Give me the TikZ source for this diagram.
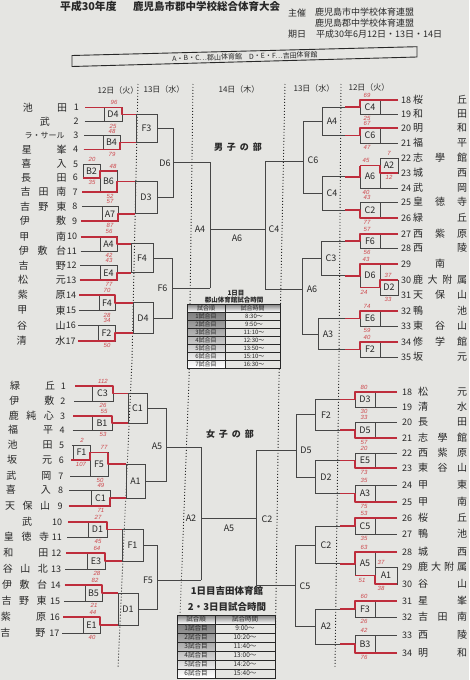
\documentclass[tikz,border=0pt]{standalone}
\usepackage{fontspec}
\setmainfont{Noto Sans CJK JP}
\newfontfamily\hwf{Liberation Sans}
\definecolor{paper}{RGB}{229,229,226}
\definecolor{ink}{RGB}{40,40,40}
\definecolor{lnc}{RGB}{70,70,70}
\definecolor{redln}{RGB}{190,45,60}
\definecolor{redtx}{RGB}{205,70,75}
\definecolor{shade}{RGB}{140,138,145}
\tikzset{
 ln/.style={draw=lnc,line width=0.85pt},
 rl/.style={draw=redln,line width=1.7pt,line join=round},
 nm/.style={inner sep=0pt,text=ink,font=\fontsize{10}{10}\selectfont},
 num/.style={inner sep=0pt,text=ink,font=\fontsize{9}{9}\selectfont},
 lbl/.style={inner sep=0pt,text=ink,font=\fontsize{9}{9}\selectfont},
 scr/.style={inner sep=0pt,text=redtx,font=\hwf\itshape\fontsize{6}{6}\selectfont},
 hdr/.style={inner sep=0pt,text=ink,font=\fontsize{8}{8}\selectfont},
 dotl/.style={draw=ink,line width=0.9pt,dash pattern=on 0.9pt off 2.1pt},
 tbl/.style={draw=ink,line width=0.7pt},
 ttx/.style={inner sep=0pt,text=ink},
}
% left entry: #1 number, #2 y, #3 n chars, #4 chars, #5 line end x
\newcommand\Lent[5]{%
  \pgfmathsetmacro\myA{\LA-\LAd*(#1-1)}%
  \pgfmathsetmacro\myB{\LB-\LBd*(#1-1)}%
  \pgfmathsetmacro\myN{\LN-\LNd*(#1-1)}%
  \pgfmathsetmacro\myS{\LS-\LSd*(#1-1)}%
  \foreach \ch [count=\k] in {#4} {%
    \pgfmathsetmacro\myX{#3==1 ? (\myA+\myB)/2 : \myA+(\k-1)*(\myB-\myA)/max(#3-1,1)}%
    \node[nm] at (\myX,#2) {\ch};}%
  \node[num,anchor=east] at (\myN,#2) {#1};%
  \draw[ln] (\myS,#2) -- (#5,#2);%
}
% right entry: #1 number, #2 y, #3 n chars, #4 chars, #5 line start x
\newcommand\Rent[5]{%
  \foreach \ch [count=\k] in {#4} {%
    \pgfmathsetmacro\myX{#3==1 ? (\RA+\RB)/2 : \RA+(\k-1)*(\RB-\RA)/max(#3-1,1)}%
    \node[nm] at (\myX,#2) {\ch};}%
  \node[num,anchor=west] at (\RN,#2) {#1};%
  \draw[ln] (#5,#2) -- (\RE,#2);%
}
\newcommand\mbx[5]{\draw[ln] (#1,#3) rectangle (#2,#4);
  \node[lbl] at ({(#1+#2)/2},{(#3+#4)/2}) {#5};}
\newcommand\rwin[5]{\draw[rl] (#1,#2) -- (#3,#2) -- (#3,#4) -- (#5,#4);}
\newcommand\scoreat[3]{\node[scr] at (#1,#2) {#3};}
\begin{document}
\begin{tikzpicture}[x=1pt,y=-1pt]
\useasboundingbox (0,0) rectangle (469,680);
\fill[paper] (0,0) rectangle (469,680);

% ---------- header ----------
\node[inner sep=0pt,text=ink,font=\bfseries\fontsize{10.8}{10.8}\selectfont,anchor=west] at (60,6.5) {平成30年度};
\node[inner sep=0pt,text=ink,font=\bfseries\fontsize{10.5}{10.5}\selectfont,anchor=west] at (133,6.3) {鹿児島市郡中学校総合体育大会};
\begin{scope}[every node/.style={inner sep=0pt,text=ink,font=\fontsize{9}{9}\selectfont}]
\node at (297,13.5) {主催};
\node[anchor=west] at (315,12.5) {鹿児島市中学校体育連盟};
\node[anchor=west] at (315,23) {鹿児島郡中学校体育連盟};
\node at (297,34.5) {期日};
\node[anchor=west] at (316,34) {平成30年6月12日・13日・14日};
\end{scope}
\draw[line width=0.9pt,draw=ink] (72,55.5) -- (417,46.7) -- (417,57) -- (72,66.5) -- cycle;
\node[inner sep=0pt,text=ink,font=\fontsize{7}{7}\selectfont,rotate=1.5] at (245,56.6) {A・B・C…郡山体育館　D・E・F…吉田体育館};

% column headers
\node[hdr] at (118,90) {12日（火）};
\node[hdr] at (164,89.5) {13日（水）};
\node[hdr] at (239,89) {14日（木）};
\node[hdr] at (314,88) {13日（水）};
\node[hdr] at (369,87.5) {12日（火）};

% dotted day separators
\draw[dotl] (138,84) -- (132,360) -- (118,668);
\draw[dotl] (193,84) -- (189,380) -- (178,668);
\draw[dotl] (285,84) -- (279,380) -- (275,668);
\draw[dotl] (341,84) -- (339,360) -- (335,668);

% ================= BOYS =================
\node[inner sep=0pt,text=ink,font=\bfseries\fontsize{9}{9}\selectfont] at (238,147) {男\hspace{4pt}子\hspace{4pt}の\hspace{4pt}部};
\def\LA{28}\def\LAd{0.4}\def\LB{62}\def\LBd{0.1}\def\LN{79}\def\LNd{0.2}\def\LS{85}\def\LSd{0.45}
\Lent{1}{107.5}{2}{池,田}{122}
\Lent{2}{121.7}{1}{武}{122}
\Lent{3}{135.7}{1}{{\fontsize{8}{8}\selectfont ラ・サール}}{120}
\Lent{4}{149.5}{2}{星,峯}{120}
\Lent{5}{164}{2}{喜,入}{100}
\Lent{6}{177.7}{2}{長,田}{100}
\Lent{7}{192}{3}{吉,田,南}{117}
\Lent{8}{206.7}{3}{吉,野,東}{118}
\Lent{9}{221}{2}{伊,敷}{118}
\Lent{10}{236.7}{2}{甲,南}{117}
\Lent{11}{251}{3}{伊,敷,台}{117}
\Lent{12}{265.7}{2}{吉,野}{117}
\Lent{13}{280}{2}{松,元}{117}
\Lent{14}{295}{2}{紫,原}{115}
\Lent{15}{310.5}{2}{甲,東}{115}
\Lent{16}{325.5}{2}{谷,山}{115}
\Lent{17}{341}{2}{清,水}{115}
\mbx{104}{122}{107.5}{121.7}{D4}
\mbx{103}{120}{135.7}{149.5}{B4}
\mbx{83}{100}{164}{177.7}{B2}
\mbx{100}{117}{170.85}{192}{B6}
\mbx{102}{118}{206.7}{221}{A7}
\mbx{100}{117}{236.7}{251}{A4}
\mbx{100}{117}{265.7}{280}{E4}
\mbx{99}{115}{295}{310.5}{F4}
\mbx{98}{115}{325.5}{341}{F2}
\mbx{136}{157}{114.6}{142.6}{F3}
\mbx{135}{157}{181.4}{213.85}{D3}
\mbx{131}{153}{243.85}{272.85}{F4}
\mbx{133}{153}{302.75}{333.25}{D4}
\draw[ln] (122,114.6)--(136,114.6) (120,142.6)--(136,142.6) (117,181.4)--(135,181.4) (118,213.85)--(135,213.85)
 (117,243.85)--(131,243.85) (117,272.85)--(131,272.85) (115,302.75)--(133,302.75) (115,333.25)--(133,333.25);
\draw[ln] (157,128.6)--(173,128.6)--(173,197.6)--(157,197.6);
\node[lbl] at (165,163) {D6};
\draw[ln] (173,162)--(210,162);
\draw[ln] (153,258.35)--(172,258.35)--(172,318)--(153,318);
\node[lbl] at (162.5,288) {F6};
\draw[ln] (172,288)--(210,288);
\draw[ln] (210,162)--(210,288);
\node[lbl] at (200,229) {A4};
\draw[ln] (210,229)--(265,229);
\node[lbl] at (237,238) {A6};
\draw[ln] (265,161)--(265,289);
\node[lbl] at (274,229) {C4};

\def\RA{418}\def\RB{462}\def\RN{401}\def\RE{398}
\Rent{18}{100}{2}{桜,丘}{360}
\Rent{19}{114}{2}{和,田}{360}
\Rent{20}{128}{2}{明,和}{360}
\Rent{21}{143}{2}{福,平}{360}
\Rent{22}{158}{3}{志,學,館}{380}
\Rent{23}{173}{2}{城,西}{380}
\Rent{24}{188}{2}{武,岡}{360}
\Rent{25}{202}{3}{皇,徳,寺}{360}
\Rent{26}{218}{2}{緑,丘}{360}
\Rent{27}{234}{3}{西,紫,原}{360}
\Rent{28}{248}{2}{西,陵}{360}
\Rent{29}{264}{1}{南}{360}
\Rent{30}{280}{4}{鹿,大,附,属}{380}
\Rent{31}{295}{3}{天,保,山}{380}
\Rent{32}{311}{2}{鴨,池}{360}
\Rent{33}{326}{3}{東,谷,山}{360}
\Rent{34}{342}{3}{修,学,館}{360}
\Rent{35}{357}{2}{坂,元}{360}
\mbx{360}{380}{100}{114}{C4}
\mbx{360}{380}{128}{143}{C6}
\mbx{380}{398}{158}{173}{A2}
\mbx{360}{380}{165.5}{188}{A6}
\mbx{360}{380}{202}{218}{C2}
\mbx{360}{380}{234}{248}{F6}
\mbx{380}{398}{280}{295}{D2}
\mbx{360}{380}{264}{287.5}{D6}
\mbx{360}{380}{311}{326}{E6}
\mbx{360}{380}{342}{357}{F2}
\draw[ln] (360,107)--(322,107)--(322,135.5)--(360,135.5); \node[lbl] at (332,121.3) {A4};
\draw[ln] (360,176.75)--(322,176.75)--(322,210)--(360,210); \node[lbl] at (332,193.4) {C4};
\draw[ln] (360,241)--(321,241)--(321,275.75)--(360,275.75); \node[lbl] at (331,258.4) {C3};
\draw[ln] (360,318.5)--(318,318.5)--(318,349.5)--(360,349.5); \node[lbl] at (328,334) {A3};
\draw[ln] (322,121.3)--(303,121.3)--(303,193.4)--(322,193.4); \node[lbl] at (313,160) {C6};
\draw[ln] (303,161)--(265,161);
\draw[ln] (321,258.4)--(302,258.4)--(302,334)--(318,334); \node[lbl] at (312,289) {A6};
\draw[ln] (302,289)--(265,289);

% boys table
\node[ttx,font=\bfseries\fontsize{6.5}{6.5}\selectfont] at (236,293) {1日目};
\node[ttx,font=\bfseries\fontsize{6.5}{6.5}\selectfont] at (234,300) {郡山体育館試合時間};
\fill[shade] (187,304) rectangle (280,312);
\fill[shade] (187,312) rectangle (225,368);
\fill[paper] (225,312) rectangle (280,368);
\draw[tbl] (187,304) rectangle (280,368);
\foreach \i in {1,...,7} \draw[tbl] (187,{304+8*\i}) -- (280,{304+8*\i});
\draw[tbl] (225,304) -- (225,368);
\begin{scope}[every node/.style={ttx,font=\fontsize{6}{6}\selectfont}]
\node at (206,308) {試合順};
\node at (252.5,308) {試合時間};
\foreach \t [count=\i] in {8:30～,9:50～,11:10～,12:30～,13:50～,15:10～,16:30～} {
  \node at (206,{308+8*\i}) {\i 試合目};
  \node at (254,{308+8*\i}) {\t};}
\end{scope}

% boys red
\rwin{85}{107.5}{122}{114.6}{136}
\rwin{83.65}{149.5}{120}{142.6}{136}
\rwin{82.75}{177.7}{100}{170.85}{117}
\rwin{82.3}{192}{117}{181.4}{135}
\rwin{81.4}{221}{118}{213.85}{135}
\rwin{80.95}{236.7}{117}{243.85}{131}
\rwin{79.6}{280}{117}{272.85}{131}
\rwin{79.15}{295}{115}{302.75}{133}
\rwin{77.8}{341}{115}{333.25}{133}
\rwin{398}{100}{360}{107}{345}
\rwin{398}{128}{360}{135.5}{345}
\rwin{398}{173}{380}{165.5}{360}
\rwin{360}{165.5}{360}{176.75}{345}
\rwin{398}{218}{360}{210}{345}
\rwin{398}{234}{360}{241}{345}
\rwin{398}{280}{380}{287.5}{360}
\rwin{398}{264}{360}{275.75}{345}
\rwin{398}{311}{360}{318.5}{345}
\rwin{398}{342}{360}{349.5}{345}
\scoreat{114}{102.5}{96}\scoreat{113}{126.2}{25}
\scoreat{112}{131}{48}\scoreat{112}{154}{79}
\scoreat{92}{159}{20}\scoreat{92}{182.2}{35}
\scoreat{113}{166}{48}\scoreat{110}{196.5}{52}
\scoreat{110}{201.7}{57}\scoreat{110}{225.5}{87}
\scoreat{109}{231.7}{56}\scoreat{109}{255.5}{42}
\scoreat{109}{260.7}{43}\scoreat{109}{284.5}{77}
\scoreat{107}{290}{70}\scoreat{107}{315}{28}
\scoreat{107}{320.5}{34}\scoreat{107}{345.5}{50}
\scoreat{367}{95}{69}\scoreat{367}{118.5}{25}
\scoreat{367}{123}{67}\scoreat{367}{147.5}{47}
\scoreat{389}{153}{7}\scoreat{389}{177.5}{12}
\scoreat{366}{160.5}{45}\scoreat{366}{192.5}{40}
\scoreat{367}{197}{43}\scoreat{367}{222.5}{77}
\scoreat{367}{229}{57}\scoreat{367}{252.5}{56}
\scoreat{388}{275}{37}\scoreat{388}{299.5}{33}
\scoreat{366}{259}{43}\scoreat{364}{292}{24}
\scoreat{367}{306}{74}\scoreat{367}{330.5}{59}
\scoreat{367}{337}{40}

% ================= GIRLS =================
\node[inner sep=0pt,text=ink,font=\bfseries\fontsize{9}{9}\selectfont] at (230,434) {女\hspace{4pt}子\hspace{4pt}の\hspace{4pt}部};
\def\LA{15}\def\LAd{0.6}\def\LB{50}\def\LBd{0.6}\def\LN{66}\def\LNd{0.4}\def\LS{75}\def\LSd{0.8}
\Lent{1}{386}{2}{緑,丘}{113}
\Lent{2}{401}{2}{伊,敷}{113}
\Lent{3}{416}{3}{鹿,純,心}{112}
\Lent{4}{430}{2}{福,平}{112}
\Lent{5}{445}{2}{池,田}{90}
\Lent{6}{460}{2}{坂,元}{90}
\Lent{7}{476}{2}{武,岡}{108}
\Lent{8}{490}{2}{喜,入}{110}
\Lent{9}{506}{3}{天,保,山}{110}
\Lent{10}{522}{1}{武}{107}
\Lent{11}{537}{3}{皇,徳,寺}{107}
\Lent{12}{553}{2}{和,田}{105}
\Lent{13}{569}{3}{谷,山,北}{105}
\Lent{14}{585}{3}{伊,敷,台}{102}
\Lent{15}{601}{3}{吉,野,東}{102}
\Lent{16}{617}{2}{紫,原}{100}
\Lent{17}{633}{2}{吉,野}{100}
\mbx{92}{113}{386}{401}{C3}
\mbx{92}{112}{416}{430}{B1}
\mbx{73}{90}{445}{460}{F1}
\mbx{90}{108}{452.5}{476}{F5}
\mbx{91}{110}{490}{506}{C1}
\mbx{88}{107}{522}{537}{D1}
\mbx{87}{105}{553}{569}{E3}
\mbx{85}{102}{585}{601}{B5}
\mbx{83}{100}{617}{633}{E1}
\mbx{128}{147}{393.5}{423}{C1}
\mbx{126}{145}{464.25}{498}{A1}
\mbx{122}{143}{529.5}{561}{F1}
\mbx{118}{138}{593}{625}{D1}
\draw[ln] (113,393.5)--(128,393.5) (112,423)--(128,423) (108,464.25)--(126,464.25) (110,498)--(126,498)
 (107,529.5)--(122,529.5) (105,561)--(122,561) (102,593)--(118,593) (100,625)--(118,625);
\draw[ln] (147,408.25)--(166,408.25)--(166,481.1)--(145,481.1);
\node[lbl] at (157,446) {A5};
\draw[ln] (166,447)--(201,447);
\draw[ln] (143,545.25)--(157,545.25)--(157,609)--(138,609);
\node[lbl] at (148,580) {F5};
\draw[ln] (157,580)--(201,580);
\draw[ln] (201,447)--(201,580);
\node[lbl] at (191,518) {A2};
\draw[ln] (201,518)--(256,518);
\node[lbl] at (229,528) {A5};
\draw[ln] (256,450)--(256,585);
\node[lbl] at (267,519) {C2};

\def\RA{423}\def\RB{462}\def\RN{402}\def\RE{397}
\Rent{18}{392}{2}{松,元}{355}
\Rent{19}{407}{2}{清,水}{355}
\Rent{20}{422}{2}{長,田}{355}
\Rent{21}{438}{3}{志,學,館}{355}
\Rent{22}{453}{3}{西,紫,原}{355}
\Rent{23}{468}{3}{東,谷,山}{355}
\Rent{24}{485}{2}{甲,東}{355}
\Rent{25}{502}{2}{甲,南}{355}
\Rent{26}{518}{2}{桜,丘}{355}
\Rent{27}{534}{2}{鴨,池}{355}
\Rent{28}{552}{2}{城,西}{355}
\Rent{29}{567}{4}{鹿,大,附,属}{375}
\Rent{30}{584}{2}{谷,山}{375}
\Rent{31}{601}{2}{星,峯}{355}
\Rent{32}{617}{3}{吉,田,南}{355}
\Rent{33}{635}{2}{西,陵}{355}
\Rent{34}{653}{2}{明,和}{355}
\mbx{355}{375}{392}{407}{D3}
\mbx{355}{375}{422}{438}{D5}
\mbx{355}{375}{453}{468}{E5}
\mbx{355}{375}{485}{502}{A3}
\mbx{355}{375}{518}{534}{C5}
\mbx{375}{397}{567}{584}{A1}
\mbx{355}{375}{552}{575.5}{A5}
\mbx{355}{375}{601}{617}{F3}
\mbx{355}{375}{635}{653}{B3}
\draw[ln] (355,399.5)--(315,399.5)--(315,430)--(355,430); \node[lbl] at (326,414.75) {F2};
\draw[ln] (355,460.5)--(315,460.5)--(315,493.5)--(355,493.5); \node[lbl] at (326,477) {D2};
\draw[ln] (355,526)--(315,526)--(315,563.75)--(355,563.75); \node[lbl] at (326,545) {C2};
\draw[ln] (355,609)--(315,609)--(315,644)--(355,644); \node[lbl] at (326,626.5) {A2};
\draw[ln] (315,414.75)--(296,414.75)--(296,477)--(315,477); \node[lbl] at (306,450) {D5};
\draw[ln] (296,450)--(256,450);
\draw[ln] (315,545)--(295,545)--(295,626.5)--(315,626.5); \node[lbl] at (305,586) {C5};
\draw[ln] (295,585)--(256,585);

% girls table
\node[ttx,font=\bfseries\fontsize{9.5}{9.5}\selectfont] at (227,591) {1日目吉田体育館};
\node[ttx,font=\bfseries\fontsize{9.5}{9.5}\selectfont] at (227,607) {2・3日目試合時間};
\fill[shade] (177,615) rectangle (275,624);
\fill[shade] (177,624) rectangle (215,678);
\fill[paper] (215,624) rectangle (275,678);
\draw[tbl] (177,615) rectangle (275,678);
\foreach \i in {1,...,6} \draw[tbl] (177,{615+9*\i}) -- (275,{615+9*\i});
\draw[tbl] (215,615) -- (215,678);
\begin{scope}[every node/.style={ttx,font=\fontsize{6.5}{6.5}\selectfont}]
\node at (196,619.5) {試合順};
\node at (245,619.5) {試合時間};
\foreach \t [count=\i] in {9:00～,10:20～,11:40～,13:00～,14:20～,15:40～} {
  \node at (196,{619.5+9*\i}) {\i 試合目};
  \node at (245,{619.5+9*\i}) {\t};}
\end{scope}

% girls red
\rwin{75}{386}{113}{393.5}{128}
\rwin{73.4}{416}{112}{423}{128}
\rwin{71}{460}{90}{452.5}{108}
\rwin{108}{452.5}{108}{464.25}{126}
\rwin{68.6}{506}{110}{498}{126}
\rwin{67.8}{522}{107}{529.5}{122}
\rwin{66.2}{553}{105}{561}{122}
\rwin{64.6}{585}{102}{593}{118}
\rwin{63}{617}{100}{625}{118}
\rwin{397}{392}{355}{399.5}{340}
\rwin{397}{438}{355}{430}{340}
\rwin{397}{468}{355}{460.5}{340}
\rwin{397}{502}{355}{493.5}{340}
\rwin{397}{518}{355}{526}{340}
\rwin{397}{584}{375}{575.5}{355}
\rwin{397}{552}{355}{563.75}{340}
\rwin{397}{601}{355}{609}{340}
\rwin{397}{653}{355}{644}{340}
\scoreat{103}{381}{112}\scoreat{103}{405.5}{26}
\scoreat{104}{411}{55}\scoreat{103}{434.5}{53}
\scoreat{82}{440}{2}\scoreat{81}{464.5}{107}
\scoreat{104}{447.5}{77}\scoreat{100}{480.5}{50}
\scoreat{101}{485}{49}\scoreat{101}{510.5}{71}
\scoreat{98}{517}{27}\scoreat{98}{541.5}{45}
\scoreat{97}{548}{64}\scoreat{97}{573.5}{28}
\scoreat{95}{580}{82}\scoreat{94}{605.5}{21}
\scoreat{93}{612}{44}\scoreat{92}{637.5}{40}
\scoreat{364}{387}{80}\scoreat{364}{411.5}{30}
\scoreat{364}{417}{33}\scoreat{364}{442.5}{57}
\scoreat{364}{448}{20}\scoreat{364}{472.5}{73}
\scoreat{364}{480}{35}\scoreat{364}{506.5}{75}
\scoreat{364}{513}{53}\scoreat{364}{538.5}{35}
\scoreat{364}{547}{63}\scoreat{362}{580}{51}
\scoreat{381}{562}{37}\scoreat{381}{588.5}{38}
\scoreat{364}{596}{60}\scoreat{364}{621.5}{26}
\scoreat{364}{630}{42}\scoreat{364}{657.5}{76}
\end{tikzpicture}
\end{document}
